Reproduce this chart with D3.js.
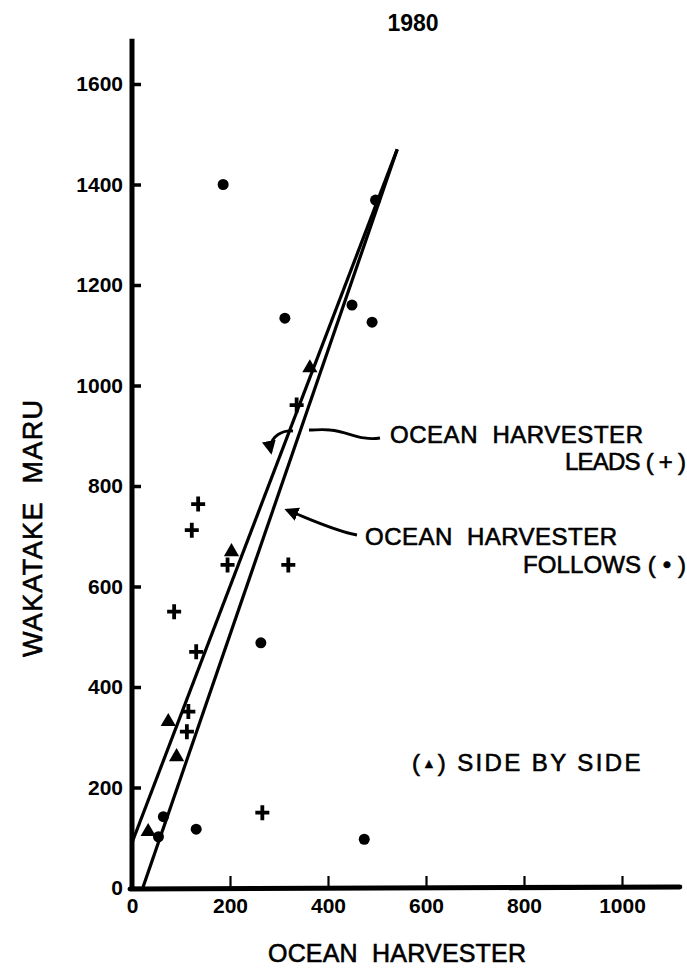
<!DOCTYPE html>
<html>
<head>
<meta charset="utf-8">
<script src="https://cdn.jsdelivr.net/npm/d3@7"></script>
<style>
body { margin: 0; background: #fff; }
svg { display: block; font-family: "Liberation Sans", Arial, sans-serif; }
text { white-space: pre; }
.heavy { stroke: #000; stroke-width: 0.6px; }
</style>
</head>
<body>
<svg id="chart" width="687" height="971"></svg>
<script>
// 1980 catch: Ocean Harvester (x) against Wakatake Maru (y)
var leadsX = [336, 135, 122, 195, 319, 86, 131, 115, 112, 266];
var leadsY = [961, 764, 712, 643, 643, 550, 470, 351, 311, 150];

var followsX = [186, 497, 312, 490, 449, 263, 131, 474, 64, 54];
var followsY = [1400, 1369, 1134, 1126, 1160, 488, 117, 97, 142, 102];

var sideX = [363, 203, 74, 91, 33];
var sideY = [1035, 669, 331, 261, 112];

var xTicks = [0, 200, 400, 600, 800, 1000];
var yTicks = [0, 200, 400, 600, 800, 1000, 1200, 1400, 1600];

// the two fitted lines, y = a + b * x, drawn up to lineTop
var leadsFit = [90, 2.55];
var followsFit = [-62, 2.83];
var lineTop = 1470;

var svg = d3.select("#chart");

var x = d3.scaleLinear().domain([0, 1000]).range([132, 622]);
var y = d3.scaleLinear().domain([0, 1600]).range([888, 84]);

// axes, ticks point inwards
var xAxis = svg.append("g")
    .attr("transform", "translate(0," + y(0) + ")")
    .call(d3.axisBottom(x).tickValues(xTicks).tickSizeInner(-12).tickSizeOuter(0).tickPadding(10).tickFormat(d3.format("d")));
xAxis.select(".domain").remove();
xAxis.selectAll(".tick line").attr("stroke", "#000").attr("stroke-width", 2.2);

var yAxis = svg.append("g")
    .attr("transform", "translate(" + x(0) + ",0)")
    .call(d3.axisLeft(y).tickValues(yTicks).tickSizeInner(-9).tickSizeOuter(0).tickPadding(9).tickFormat(d3.format("d")));
yAxis.select(".domain").remove();
yAxis.selectAll(".tick line").attr("stroke", "#000").attr("stroke-width", 3.5);

svg.selectAll(".tick text")
    .attr("fill", "#000")
    .style("font-size", "21px")
    .style("font-weight", "bold");

svg.append("line")
    .attr("x1", x(0)).attr("y1", y(0) + 2)
    .attr("x2", x(0)).attr("y2", y(1690))
    .attr("stroke", "#000").attr("stroke-width", 5);

svg.append("line")
    .attr("x1", x(0) - 2).attr("y1", y(0) + 1)
    .attr("x2", x(1118)).attr("y2", y(0) - 1)
    .attr("stroke", "#000").attr("stroke-width", 5).attr("stroke-linecap", "round");

// regression lines
function fitPoints(fit) {
    var x0 = Math.max(0, -fit[0] / fit[1]);
    var x1 = (lineTop - fit[0]) / fit[1];
    return [[x0, fit[0] + fit[1] * x0], [x1, lineTop]];
}
var lineGen = d3.line().x(function(d){ return x(d[0]); }).y(function(d){ return y(d[1]); });
[leadsFit, followsFit].forEach(function(fit){
    svg.append("path")
        .attr("d", lineGen(fitPoints(fit)))
        .attr("fill", "none").attr("stroke", "#000").attr("stroke-width", 3.2);
});

// markers
svg.selectAll("circle.follows")
    .data(d3.zip(followsX, followsY))
    .enter().append("circle")
    .attr("class", "follows")
    .attr("cx", function(d){ return x(d[0]); })
    .attr("cy", function(d){ return y(d[1]); })
    .attr("r", 5.5)
    .attr("fill", "#000");

svg.selectAll("path.leads")
    .data(d3.zip(leadsX, leadsY))
    .enter().append("path")
    .attr("class", "leads")
    .attr("transform", function(d){ return "translate(" + x(d[0]) + "," + y(d[1]) + ")"; })
    .attr("d", "M-7,0H7M0,-7.5V7.5")
    .attr("stroke", "#000").attr("stroke-width", 3.8);

svg.selectAll("path.side")
    .data(d3.zip(sideX, sideY))
    .enter().append("path")
    .attr("class", "side")
    .attr("transform", function(d){ return "translate(" + x(d[0]) + "," + y(d[1]) + ")"; })
    .attr("d", d3.symbol().type(d3.symbolTriangle).size(100))
    .attr("fill", "#000");

// titles
svg.append("text").attr("x", 413).attr("y", 31)
    .attr("text-anchor", "middle")
    .style("font-size", "23px").style("font-weight", "bold")
    .text("1980");

svg.append("text").attr("class", "heavy").attr("x", 268).attr("y", 962)
    .attr("textLength", 258).attr("lengthAdjust", "spacing")
    .style("font-size", "25px")
    .text("OCEAN  HARVESTER");

svg.append("text").attr("class", "heavy")
    .attr("transform", "translate(42,657) rotate(-90)")
    .attr("textLength", 257).attr("lengthAdjust", "spacing")
    .style("font-size", "27px")
    .text("WAKATAKE  MARU");

// annotations
var defs = svg.append("defs");
defs.append("marker").attr("id", "head")
    .attr("viewBox", "0 0 10 10").attr("refX", 8).attr("refY", 5)
    .attr("markerWidth", 5).attr("markerHeight", 5)
    .attr("orient", "auto")
    .append("path").attr("d", "M0,0L10,5L0,10Z").attr("fill", "#000");

svg.append("path")
    .attr("d", "M380,438 C360,441 350,432 330,430 C322,429 316,430 309,430")
    .attr("fill", "none").attr("stroke", "#000").attr("stroke-width", 2.8);
svg.append("path")
    .attr("d", "M293,431 C282,430 272,436 270,447 L271,452")
    .attr("fill", "none").attr("stroke", "#000").attr("stroke-width", 2.8)
    .attr("marker-end", "url(#head)");
svg.append("path")
    .attr("d", "M357,535 C335,531 312,520 287,510")
    .attr("fill", "none").attr("stroke", "#000").attr("stroke-width", 2.8)
    .attr("marker-end", "url(#head)");

var notes = [
    {t: "OCEAN  HARVESTER", x: 390, y: 443, w: 253, anchor: "start"},
    {t: "LEADS ( + )", x: 686, y: 470, w: 121, anchor: "end"},
    {t: "OCEAN  HARVESTER", x: 365, y: 545, w: 252, anchor: "start"},
    {t: "FOLLOWS ( \u2022 )", x: 686, y: 573, w: 163, anchor: "end"}
];
notes.forEach(function(n){
    svg.append("text").attr("class", "heavy")
        .attr("x", n.x).attr("y", n.y)
        .attr("text-anchor", n.anchor)
        .attr("textLength", n.w).attr("lengthAdjust", "spacing")
        .style("font-size", "24px")
        .text(n.t);
});

var side = svg.append("text").attr("class", "heavy")
    .attr("x", 412).attr("y", 771)
    .style("font-size", "24px").style("letter-spacing", "2.4px");
side.append("tspan").text("(");
side.append("tspan").style("font-size", "13px").attr("dy", -3).text("\u25B2");
side.append("tspan").attr("dy", 3).text(") SIDE BY SIDE");
</script>
</body>
</html>
